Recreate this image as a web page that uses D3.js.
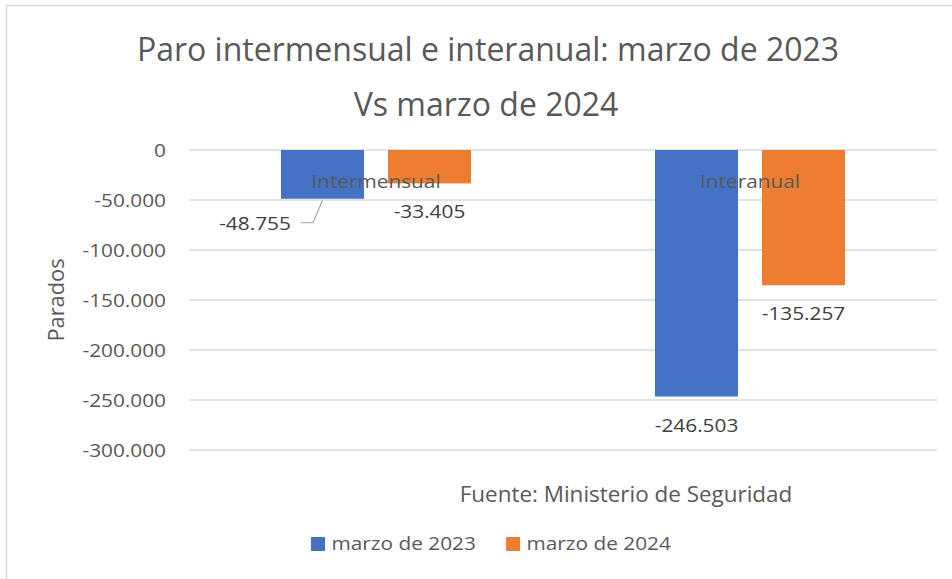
<!DOCTYPE html>
<html>
<head>
<meta charset="utf-8">
<script src="https://cdn.jsdelivr.net/npm/d3@7"></script>
<style>
  body { margin: 0; background: #fff; }
  text { font-family: "Open Sans", sans-serif; }
</style>
</head>
<body>
<div id="chart"></div>
<script>
const categories = ["Intermensual", "Interanual"];
const series = ["marzo de 2023", "marzo de 2024"];
const values2023 = [-48755, -246503];
const values2024 = [-33405, -135257];
const yTicks = [0, -50000, -100000, -150000, -200000, -250000, -300000];
const titleLines = ["Paro intermensual e interanual: marzo de 2023", "Vs marzo de 2024"];
const yTitle = "Parados";
const sourceNote = "Fuente: Ministerio de Seguridad";

const colors = ["#4472C4", "#ED7D31"];
const width = 952, height = 579;
const SX = 1.19; // small text in the picture is wider than Open Sans

const es = d3.formatLocale({decimal: ",", thousands: ".", grouping: [3], currency: ["", " €"], minus: "-"});
const fmt = es.format(",d");

const svg = d3.create("svg")
    .attr("width", width)
    .attr("height", height);

// chart border
svg.append("rect")
    .attr("x", 6.5).attr("y", 5.5)
    .attr("width", 980).attr("height", 620)
    .attr("fill", "#fff")
    .attr("stroke", "#d9d9d9")
    .attr("stroke-width", 1.5);

function txt(x, y, str, size, color, anchor, sx, rot) {
    return svg.append("text")
        .attr("transform", `translate(${x},${y})` + (rot ? ` rotate(${rot})` : "") + ` scale(${sx || 1},1)`)
        .attr("text-anchor", anchor || "middle")
        .attr("font-size", size)
        .attr("fill", color)
        .text(str);
}

const y = d3.scaleLinear().domain([-300000, 0]).range([450, 150]);
const x0 = d3.scaleBand().domain(categories).range([189, 937]);
const x1 = d3.scaleBand().domain(series).range([92, 282]).paddingInner(0.224);

// gridlines
svg.append("g")
    .selectAll("line")
    .data(yTicks)
    .join("line")
    .attr("x1", 189).attr("x2", 937)
    .attr("y1", d => y(d)).attr("y2", d => y(d))
    .attr("stroke", "#d9d9d9")
    .attr("stroke-width", 1.5);

// y tick labels
yTicks.forEach(t => txt(166, y(t) + 7, fmt(t), 17.5, "#595959", "end", SX));

const rows = categories.map((c, i) => ({cat: c, vals: [values2023[i], values2024[i]]}));

// bars
svg.append("g")
    .selectAll("g")
    .data(rows)
    .join("g")
    .attr("transform", d => `translate(${x0(d.cat)},0)`)
    .selectAll("rect")
    .data(d => d.vals.map((v, j) => ({s: series[j], v: v, j: j})))
    .join("rect")
    .attr("x", d => x1(d.s))
    .attr("y", y(0))
    .attr("width", x1.bandwidth())
    .attr("height", d => y(d.v) - y(0))
    .attr("fill", d => colors[d.j]);

// category labels (drawn over the bars)
categories.forEach(c => txt(x0(c) + x0.bandwidth() / 2, y(0) + 38, c, 17.5, "#595959", "middle", SX));

// data labels
const movedLabel = {cat: "Intermensual", s: "marzo de 2023", dx: -67.5, dy: -4};
rows.forEach(r => r.vals.forEach((v, j) => {
    const cx = x0(r.cat) + x1(series[j]) + x1.bandwidth() / 2;
    let lx = cx, ly = y(v) + 35;
    if (r.cat === movedLabel.cat && series[j] === movedLabel.s) {
        lx += movedLabel.dx; ly += movedLabel.dy;
        svg.append("polyline")
            .attr("points", [[lx + 46, ly - 7], [lx + 58, ly - 7], [cx, y(v) + 1.5]].map(p => p.join(",")).join(" "))
            .attr("fill", "none")
            .attr("stroke", "#a6a6a6")
            .attr("stroke-width", 1.2);
    }
    txt(lx, ly, fmt(v), 17.5, "#404040", "middle", SX);
}));

// title
txt(488, 61, titleLines[0], 32, "#595959");
txt(486, 116, titleLines[1], 32, "#595959");

// axis title
txt(64, 300, yTitle, 21, "#595959", "middle", 1.04, -90);

// source note
txt(626, 502, sourceNote, 22, "#595959", "middle", 1.02);

// legend
const legendX = [311, 506];
series.forEach((s, j) => {
    svg.append("rect")
        .attr("x", legendX[j]).attr("y", 537)
        .attr("width", 14).attr("height", 14)
        .attr("fill", colors[j]);
    txt(legendX[j] + 20.5, 550, s, 17.5, "#595959", "start", SX);
});

document.getElementById("chart").appendChild(svg.node());
</script>
</body>
</html>
